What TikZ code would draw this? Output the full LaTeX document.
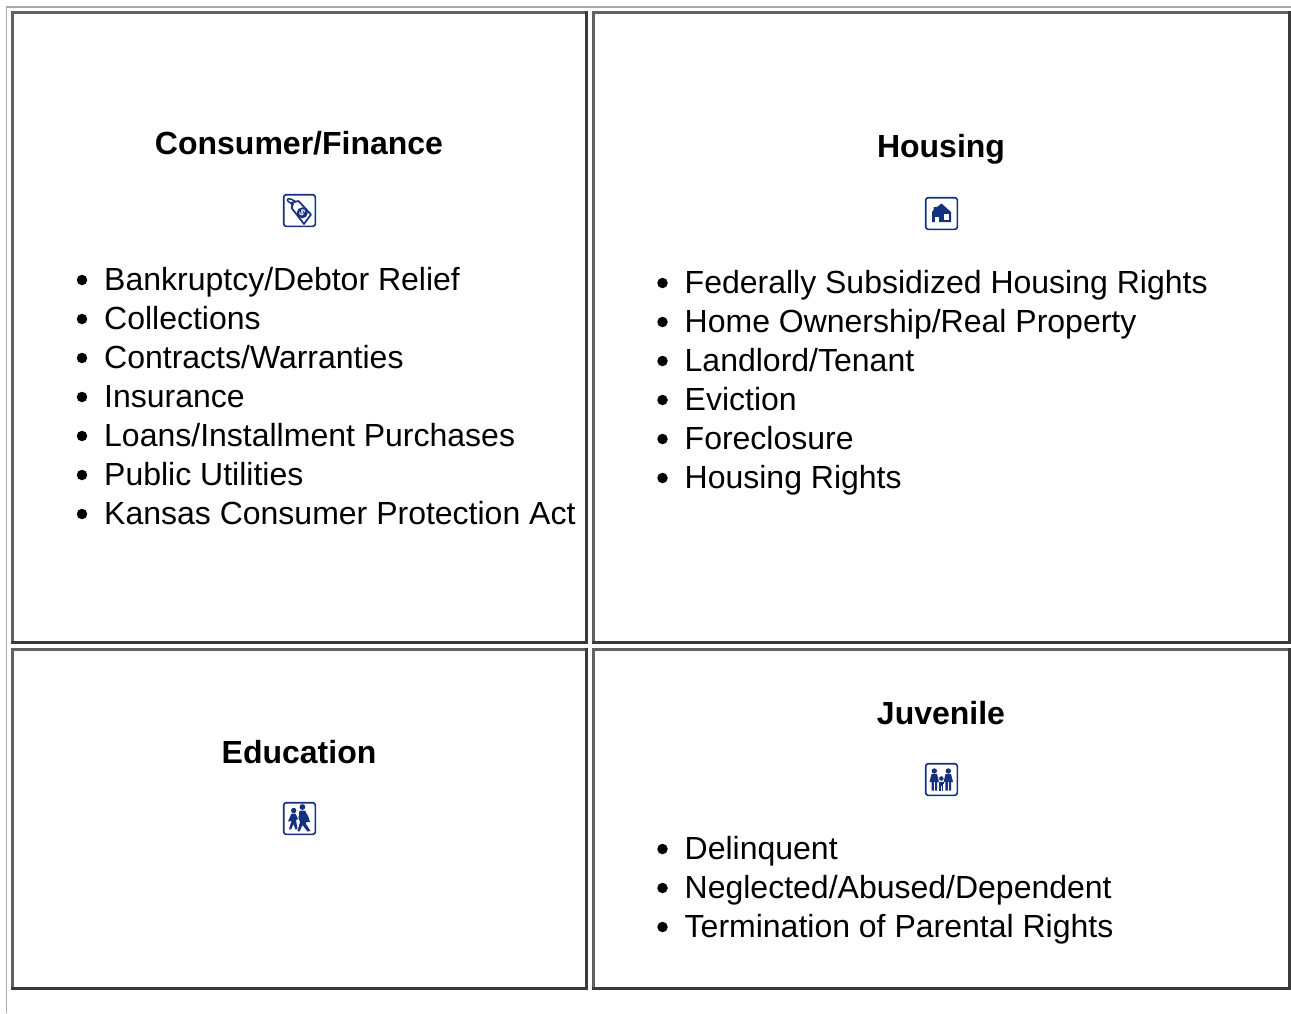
\documentclass[tikz,border=0pt]{standalone}
\usepackage{fontspec}
\setmainfont{Liberation Sans}
\definecolor{iconblue}{HTML}{14307F}
\definecolor{edgelight}{HTML}{626262}
\definecolor{edgedark}{HTML}{3A3A3A}
\definecolor{outerline}{HTML}{ABABAB}
\tikzset{
  x=1pt,y=-1pt,
  heading/.style={font=\fontsize{32}{38}\selectfont\bfseries,anchor=base,inner sep=0pt,text=black},
  item/.style={font=\fontsize{32}{39}\selectfont,anchor=base west,inner sep=0pt,text=black},
  bullet/.style={circle,fill=black,inner sep=0pt,minimum size=10.5pt},
  iconframe/.style={draw=iconblue,line width=1.6pt,rounded corners=2.5pt,fill=white},
  ico/.style={fill=iconblue,draw=none},
}
\newcommand{\cellframe}[5]{%
  \coordinate (#1nw) at (#2+1.5,#3+1.5);
  \coordinate (#1se) at (#4-1.5,#5-1.5);
  \draw[edgelight,line width=3pt,line cap=rect] (#1se |- #1nw) -- (#1nw) -- (#1nw |- #1se);
  \draw[edgedark,line width=3pt,line cap=rect] (#1nw |- #1se) -- (#1se) -- (#1se |- #1nw);
}
\newcommand{\itemline}[4]{%
  \node[bullet] (#1b) at (#2-22,#3-10) {};
  \node[item] (#1) at (#2,#3) {#4};
}
\begin{document}
\begin{tikzpicture}
\useasboundingbox (0,0) rectangle (1291,1013);
\fill[white] (0,0) rectangle (1291,1013);
\coordinate (outerA) at (1291,7);
\coordinate (outerB) at (6.5,7);
\coordinate (outerC) at (6.5,1013);
\draw[outerline,line width=1.2pt] (outerA) -- (outerB) -- (outerC);
\cellframe{c}{11}{11}{588}{644}
\cellframe{h}{592}{11}{1291}{644}
\cellframe{e}{11}{648}{588}{990}
\cellframe{j}{592}{648}{1291}{990}

\node[heading] (consumer) at (299,154) {Consumer/Finance};
\node[heading] (housing) at (941,157) {Housing};
\node[heading] (education) at (299,763) {Education};
\node[heading] (juvenile) at (941,724) {Juvenile};

\itemline{c1}{104}{290}{Bankruptcy/Debtor Relief}
\itemline{c2}{104}{329}{Collections}
\itemline{c3}{104}{368}{Contracts/Warranties}
\itemline{c4}{104}{407}{Insurance}
\itemline{c5}{104}{446}{Loans/Installment Purchases}
\itemline{c6}{104}{485}{Public Utilities}
\itemline{c7}{104}{524}{Kansas Consumer Protection Act}

\itemline{h1}{684.5}{293}{Federally Subsidized Housing Rights}
\itemline{h2}{684.5}{332}{Home Ownership/Real Property}
\itemline{h3}{684.5}{371}{Landlord/Tenant}
\itemline{h4}{684.5}{410}{Eviction}
\itemline{h5}{684.5}{449}{Foreclosure}
\itemline{h6}{684.5}{488}{Housing Rights}

\itemline{j1}{684.5}{859}{Delinquent}
\itemline{j2}{684.5}{898}{Neglected/Abused/Dependent}
\itemline{j3}{684.5}{937}{Termination of Parental Rights}

% tag icon
\begin{scope}[shift={(283,194)}]
  \draw[iconframe] (0.7,0.7) rectangle (32.3,32.3);
  \draw[iconblue,line width=1.7pt,line join=round] (9,8.5) -- (15.5,7) -- (28,20.5) -- (21,30) -- (9,14.5) -- cycle;
  \draw[iconblue,line width=1.5pt] (11,10.5) .. controls (6,9) and (3,6) .. (5,5) .. controls (7,4) and (10,6) .. (13,8);
  \fill[iconblue] (19.3,18.8) circle (5.5pt);
  \node[font=\fontsize{9}{9}\selectfont\bfseries,text=white,inner sep=0pt,rotate=-40] (tagmark) at (19.3,18.8) {\$};
\end{scope}
% house icon
\begin{scope}[shift={(925,197)}]
  \draw[iconframe] (0.7,0.7) rectangle (32.3,32.3);
  \fill[ico] (16.5,6.5) -- (21,10.5) -- (26,15) -- (26,25) -- (7,25) -- (7,15) -- (8.5,13) -- (8.5,10) -- (12,10) -- cycle;
  \fill[white] (18.5,17) rectangle (23.5,23);
  \fill[white] (9.5,20) rectangle (14,25);
\end{scope}
% school children icon
\begin{scope}[shift={(283,802)}]
  \draw[iconframe] (0.7,0.7) rectangle (32.3,32.3);
  \fill[ico] (10.7,8.5) circle (2.7pt);
  \fill[ico] (19.4,5) circle (2.9pt);
  \fill[ico] (8.5,11.5) -- (12.5,11.5) -- (15,17) -- (13,18) -- (14.5,27) -- (12.5,27.5) -- (10.5,22) -- (8,27.5) -- (6,27) -- (8.5,19) -- (5,19.5) -- cycle;
  \fill[ico] (16.5,8.5) -- (22,8.5) -- (25.5,15) -- (27,20) -- (23,20) -- (23,22) -- (27.5,29) -- (24.5,29.5) -- (19.5,23) -- (16.5,29.5) -- (14.5,29) -- (17,20) -- (15.5,16) -- cycle;
\end{scope}
% family icon
\begin{scope}[shift={(925,763)}]
  \draw[iconframe] (0.7,0.7) rectangle (32.3,32.3);
  \fill[ico] (9.3,8) circle (2.7pt);
  \fill[ico] (23.3,8) circle (2.7pt);
  \fill[ico] (16.3,15.5) circle (2.3pt);
  \fill[ico] (6.5,11) -- (12,11) -- (14,19) -- (12.2,19) -- (12,27.5) -- (6.5,27.5) -- (6.5,19) -- (4.5,19) -- cycle;
  \fill[ico] (20.5,11) -- (26,11) -- (28,19) -- (26,19) -- (26,27.5) -- (20.5,27.5) -- (20.3,19) -- (18.5,19) -- cycle;
  \fill[ico] (13.5,18.5) rectangle (19,20.5);
  \fill[ico] (14.3,18.5) rectangle (18.2,27.5);
  \draw[white,line width=0.6pt] (9.2,19) -- (9.2,27.5) (23.2,19) -- (23.2,27.5) (16.3,23) -- (16.3,27.5);
  \draw[white,line width=0.6pt] (13.2,20) -- (13.2,27.5) (19.3,20) -- (19.3,27.5);
\end{scope}
\end{tikzpicture}
\end{document}
